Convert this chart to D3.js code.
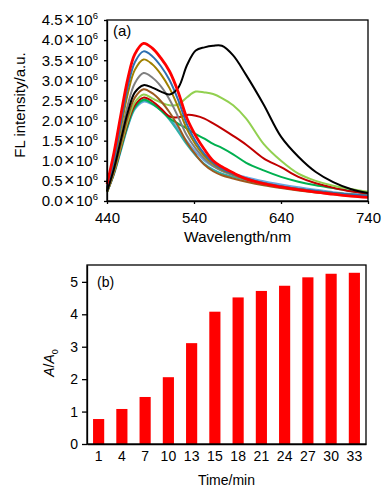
<!DOCTYPE html>
<html>
<head>
<meta charset="utf-8">
<script src="https://cdn.jsdelivr.net/npm/d3@7"></script>
<style>
  body { margin: 0; background: #fff; }
  text { font-family: "Liberation Sans", Arial, sans-serif; fill: #000; }
</style>
</head>
<body>
<script>
// wavelength grid (nm) shared by all spectra, intensities in units of 1e6
let wavelengths = [440, 448, 456, 464, 472, 482, 492, 502, 512, 522, 532, 542, 552, 562, 572, 585, 600, 620, 640, 660, 680, 700, 720, 740];

let lightblueSpec = [0.22, 0.66, 1.25, 1.85, 2.28, 2.47, 2.4, 2.26, 2.06, 1.78, 1.48, 1.22, 1.0, 0.86, 0.75, 0.67, 0.59, 0.49, 0.41, 0.34, 0.28, 0.22, 0.18, 0.15];
let tealSpec = [0.22, 0.68, 1.28, 1.88, 2.31, 2.5, 2.42, 2.26, 2.02, 1.72, 1.4, 1.13, 0.92, 0.78, 0.68, 0.6, 0.52, 0.43, 0.36, 0.3, 0.25, 0.2, 0.16, 0.13];
let greenSpec = [0.22, 0.7, 1.3, 1.9, 2.33, 2.52, 2.42, 2.25, 2.05, 1.92, 1.8, 1.66, 1.55, 1.42, 1.32, 1.16, 0.95, 0.76, 0.6, 0.48, 0.39, 0.32, 0.25, 0.2];
let darkredSpec = [0.22, 0.7, 1.33, 1.95, 2.38, 2.57, 2.48, 2.3, 2.1, 2.08, 2.14, 2.12, 2.05, 1.93, 1.8, 1.62, 1.4, 1.06, 0.84, 0.6, 0.44, 0.33, 0.24, 0.18];
let lightgreenSpec = [0.22, 0.72, 1.36, 2.0, 2.45, 2.65, 2.55, 2.45, 2.38, 2.4, 2.58, 2.72, 2.7, 2.66, 2.56, 2.38, 2.05, 1.42, 1.0, 0.68, 0.5, 0.38, 0.3, 0.23];
let brownSpec = [0.24, 0.75, 1.42, 2.1, 2.57, 2.78, 2.68, 2.48, 2.2, 1.85, 1.45, 1.15, 0.9, 0.74, 0.64, 0.56, 0.48, 0.39, 0.32, 0.26, 0.21, 0.17, 0.14, 0.12];
let graySpec = [0.27, 0.85, 1.62, 2.4, 2.93, 3.18, 3.07, 2.85, 2.52, 2.08, 1.62, 1.3, 1.05, 0.87, 0.75, 0.64, 0.54, 0.43, 0.36, 0.29, 0.24, 0.19, 0.15, 0.12];
let oliveSpec = [0.3, 0.95, 1.82, 2.68, 3.26, 3.52, 3.4, 3.15, 2.8, 2.32, 1.78, 1.4, 1.12, 0.92, 0.78, 0.66, 0.55, 0.44, 0.36, 0.3, 0.24, 0.2, 0.16, 0.13];
let blueSpec = [0.32, 1.02, 1.95, 2.85, 3.45, 3.72, 3.6, 3.35, 3.0, 2.5, 1.9, 1.48, 1.17, 0.95, 0.8, 0.67, 0.56, 0.45, 0.37, 0.3, 0.25, 0.2, 0.16, 0.13];
let blackSpec = [0.24, 0.8, 1.52, 2.22, 2.7, 2.88, 2.82, 2.72, 2.65, 2.82, 3.38, 3.74, 3.82, 3.86, 3.86, 3.62, 3.13, 2.4, 1.6, 1.1, 0.72, 0.47, 0.3, 0.2];
let redSpec = [0.42, 1.2, 2.15, 3.05, 3.65, 3.92, 3.8, 3.55, 3.22, 2.7, 2.05, 1.62, 1.28, 1.0, 0.85, 0.7, 0.55, 0.43, 0.35, 0.28, 0.22, 0.17, 0.12, 0.09];

let specTicksX = [440, 540, 640, 740];
let specTicksY = [0, 0.5, 1, 1.5, 2, 2.5, 3, 3.5, 4, 4.5];

// panel (b)
let times = ['1', '4', '7', '10', '13', '15', '18', '21', '24', '27', '30', '33'];
let ratios = [0.77, 1.08, 1.45, 2.06, 3.11, 4.08, 4.52, 4.72, 4.88, 5.14, 5.25, 5.28];
let ratioTicks = [0, 1, 2, 3, 4, 5];

let svg = d3.select('body').append('svg')
    .attr('width', 391)
    .attr('height', 497);

// ---------- panel (a): spectra ----------
let a = {left: 107, right: 368, top: 20, bottom: 201};
let xA = d3.scaleLinear().domain([440, 740]).range([a.left, a.right]);
let yA = d3.scaleLinear().domain([0, 4.5]).range([a.bottom, a.top]);

let series = [
    {vals: lightblueSpec, color: '#6aa6e0', w: 2},
    {vals: tealSpec, color: '#2fb0a8', w: 2},
    {vals: greenSpec, color: '#00b050', w: 2},
    {vals: darkredSpec, color: '#c00000', w: 2},
    {vals: lightgreenSpec, color: '#92d050', w: 2},
    {vals: brownSpec, color: '#9c5a1e', w: 2},
    {vals: graySpec, color: '#7f7f7f', w: 2},
    {vals: oliveSpec, color: '#a08000', w: 2},
    {vals: blueSpec, color: '#2e6fb0', w: 2},
    {vals: blackSpec, color: '#000000', w: 2},
    {vals: redSpec, color: '#ff0000', w: 2.8}
];

let line = d3.line()
    .x(function(d, i) { return xA(wavelengths[i]); })
    .y(function(d) { return yA(d); })
    .curve(d3.curveCatmullRom.alpha(0.5));

let plotA = svg.append('g');
plotA.selectAll('path.spec')
    .data(series)
    .enter().append('path')
    .attr('class', 'spec')
    .attr('fill', 'none')
    .attr('stroke', function(d) { return d.color; })
    .attr('stroke-width', function(d) { return d.w; })
    .attr('stroke-linejoin', 'round')
    .attr('d', function(d) { return line(d.vals); });

plotA.append('rect')
    .attr('x', a.left).attr('y', a.top)
    .attr('width', a.right - a.left).attr('height', a.bottom - a.top)
    .attr('fill', 'none').attr('stroke', '#000').attr('stroke-width', 1.3);

let xAxisA = svg.append('g')
    .attr('transform', 'translate(0,' + a.bottom + ')')
    .call(d3.axisBottom(xA).tickValues(specTicksX).tickSize(3).tickPadding(8).tickSizeOuter(0));
let yAxisA = svg.append('g')
    .attr('transform', 'translate(' + a.left + ',0)')
    .call(d3.axisLeft(yA).tickValues(specTicksY).tickSize(3).tickPadding(6).tickSizeOuter(0));

[xAxisA, yAxisA].forEach(function(g) {
    g.select('.domain').attr('stroke-width', 1.3);
    g.selectAll('.tick line').attr('stroke-width', 1.3);
    g.selectAll('text').attr('font-size', 15).attr('font-family', '"Liberation Sans", Arial, sans-serif').attr('fill', '#000');
});

// y tick labels as "n.n×10^6"
yAxisA.selectAll('.tick text').text(null).each(function(d) {
    let t = d3.select(this);
    t.append('tspan').text(d.toFixed(1));
    t.append('tspan').attr('dx', 1.5).attr('font-size', 18).text('×');
    t.append('tspan').attr('dx', 1.5).text('10');
    t.append('tspan').attr('dy', -6).attr('font-size', 9.5).text('6');
});

svg.append('text')
    .attr('x', xA(590)).attr('y', 242)
    .attr('text-anchor', 'middle').attr('font-size', 15.5)
    .text('Wavelength/nm');
svg.append('text')
    .attr('transform', 'translate(24.5,' + 105 + ') rotate(-90)')
    .attr('text-anchor', 'middle').attr('font-size', 15)
    .text('FL intensity/a.u.');
svg.append('text')
    .attr('x', 113).attr('y', 36).attr('font-size', 15)
    .text('(a)');

// ---------- panel (b): bars ----------
let b = {left: 87, right: 366, top: 265, bottom: 444};
let xB = d3.scaleBand().domain(times).range([b.left, b.right]).paddingInner(0.52).paddingOuter(0.26);
let yB = d3.scaleLinear().domain([0, 5.52]).range([b.bottom, b.top]);

svg.append('g').selectAll('rect')
    .data(ratios)
    .enter().append('rect')
    .attr('x', function(d, i) { return xB(times[i]); })
    .attr('y', function(d) { return yB(d); })
    .attr('width', xB.bandwidth())
    .attr('height', function(d) { return b.bottom - yB(d); })
    .attr('fill', '#ff0000');

svg.append('rect')
    .attr('x', b.left).attr('y', b.top)
    .attr('width', b.right - b.left).attr('height', b.bottom - b.top)
    .attr('fill', 'none').attr('stroke', '#000').attr('stroke-width', 1.3);

let xAxisB = svg.append('g')
    .attr('transform', 'translate(0,' + b.bottom + ')')
    .call(d3.axisBottom(xB).tickSize(0).tickPadding(7).tickSizeOuter(0));
let yAxisB = svg.append('g')
    .attr('transform', 'translate(' + b.left + ',0)')
    .call(d3.axisLeft(yB).tickValues(ratioTicks).tickFormat(d3.format('d')).tickSize(5).tickPadding(4).tickSizeOuter(0));

[xAxisB, yAxisB].forEach(function(g) {
    g.select('.domain').attr('stroke-width', 1.3);
    g.selectAll('.tick line').attr('stroke-width', 1.3);
    g.selectAll('text').attr('font-size', 14).attr('font-family', '"Liberation Sans", Arial, sans-serif').attr('fill', '#000');
});

svg.append('text')
    .attr('x', (b.left + b.right) / 2).attr('y', 485)
    .attr('text-anchor', 'middle').attr('font-size', 14)
    .text('Time/min');

let yLabB = svg.append('text')
    .attr('transform', 'translate(54,' + 363 + ') rotate(-90)')
    .attr('text-anchor', 'middle').attr('font-size', 14);
yLabB.append('tspan').attr('font-style', 'italic').text('A');
yLabB.append('tspan').text('/');
yLabB.append('tspan').attr('font-style', 'italic').text('A');
yLabB.append('tspan').attr('dy', 4).attr('font-size', 9).text('0');

svg.append('text')
    .attr('x', 97).attr('y', 287).attr('font-size', 14)
    .text('(b)');
</script>
</body>
</html>
